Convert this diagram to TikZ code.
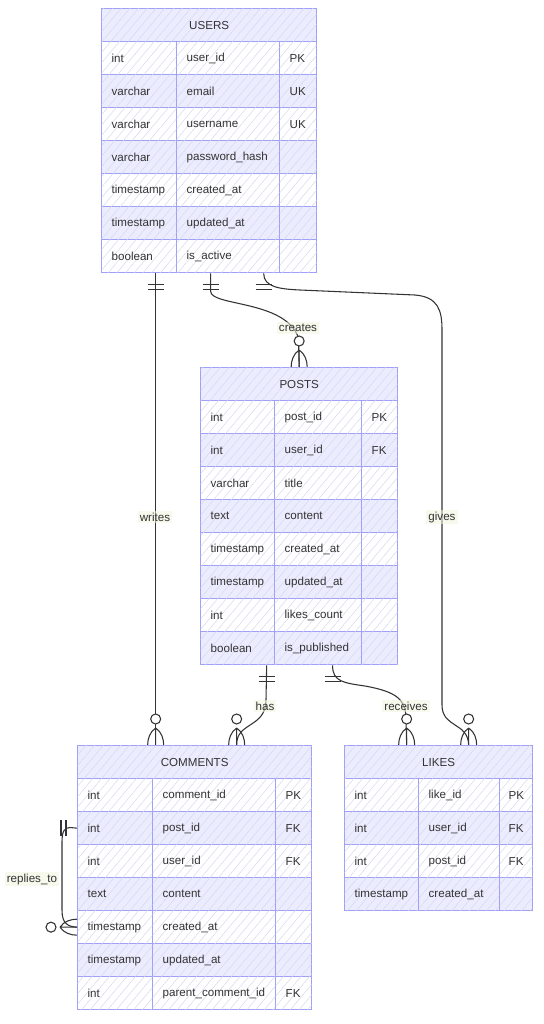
\documentclass[tikz,border=0pt]{standalone}
\usepackage{fontspec}
\setmainfont{Liberation Sans}
\usetikzlibrary{calc,patterns.meta}
\definecolor{erline}{RGB}{160,160,248}
\definecolor{erfill}{RGB}{236,236,255}
\definecolor{ertext}{RGB}{51,51,51}
\definecolor{hatch}{RGB}{214,214,240}
\definecolor{labelbg}{RGB}{240,245,222}
\newcommand{\erfont}{\fontsize{8.7}{10.5}\selectfont}
\begin{document}
\begin{tikzpicture}
[x=0.75pt, y=-0.75pt,
  hatched/.style={postaction={pattern={Lines[angle=50,distance=5pt,line width=0.35pt]},pattern color=hatch}},
  entityhead/.style={draw=erline, line width=1pt, fill=erfill, hatched, anchor=north west,
    minimum height=24.75pt, inner sep=0pt, text=ertext, font=\erfont},
  cell/.style={draw=erline, line width=1pt, hatched, anchor=north west, minimum height=24.75pt,
    inner xsep=7.5pt, inner ysep=0pt, align=left, text=ertext, font=\erfont},
  rowodd/.style={fill=white},
  roweven/.style={fill=erfill},
  relline/.style={draw=ertext, line width=0.8pt},
  rellabel/.style={fill=labelbg, fill opacity=0.55, text opacity=1, text=ertext, font=\erfont, inner sep=1.5pt},
  onlyone/.pic={\draw[relline] (-8,11) -- (8,11) (-8,16) -- (8,16);},
  zeromany/.pic={
    \draw[relline] (0,-17) .. controls (-6,-13) and (-8,-6) .. (-8,0)
      (0,-17) -- (0,0)
      (0,-17) .. controls (6,-13) and (8,-6) .. (8,0);
    \draw[relline, fill=white] (0,-26) circle[radius=5];}]
\path[use as bounding box, fill=white] (0,0) rectangle (543,1024);
%% USERS
\node (users-h) at (101,8) [entityhead, minimum width=161.25pt] {USERS};
\foreach \row/\rowfill/\ftype/\fname/\fkey in {1/rowodd/int/user\_id/PK,
  2/roweven/varchar/email/UK, 3/rowodd/varchar/username/UK,
  4/roweven/varchar/password\_hash/{}, 5/rowodd/timestamp/created\_at/{},
  6/roweven/timestamp/updated\_at/{}, 7/rowodd/boolean/is\_active/{}}
{
  \node (users-\row-type) at (101,{8+33*\row}) [cell, \rowfill, text width=41.25pt] {\ftype};
  \node (users-\row-name) at (176,{8+33*\row}) [cell, \rowfill, text width=62.25pt] {\fname};
  \node (users-\row-key) at (279,{8+33*\row}) [cell, \rowfill, text width=12.75pt] {\fkey};
}
%% POSTS
\node (posts-h) at (200,367) [entityhead, minimum width=147.75pt] {POSTS};
\foreach \row/\rowfill/\ftype/\fname/\fkey in {1/rowodd/int/post\_id/PK,
  2/roweven/int/user\_id/FK, 3/rowodd/varchar/title/{}, 4/roweven/text/content/{},
  5/rowodd/timestamp/created\_at/{}, 6/roweven/timestamp/updated\_at/{},
  7/rowodd/int/likes\_count/{}, 8/roweven/boolean/is\_published/{}}
{
  \node (posts-\row-type) at (200,{367+33*\row}) [cell, \rowfill, text width=40.5pt] {\ftype};
  \node (posts-\row-name) at (274,{367+33*\row}) [cell, \rowfill, text width=50.25pt] {\fname};
  \node (posts-\row-key) at (361,{367+33*\row}) [cell, \rowfill, text width=12pt] {\fkey};
}
%% COMMENTS
\node (comments-h) at (77,745) [entityhead, minimum width=175.5pt] {COMMENTS};
\foreach \row/\rowfill/\ftype/\fname/\fkey in {1/rowodd/int/comment\_id/PK,
  2/roweven/int/post\_id/FK, 3/rowodd/int/user\_id/FK, 4/roweven/text/content/{},
  5/rowodd/timestamp/created\_at/{}, 6/roweven/timestamp/updated\_at/{},
  7/rowodd/int/parent\_comment\_id/FK}
{
  \node (comments-\row-type) at (77,{745+33*\row}) [cell, \rowfill, text width=41.25pt] {\ftype};
  \node (comments-\row-name) at (152,{745+33*\row}) [cell, \rowfill, text width=77.25pt] {\fname};
  \node (comments-\row-key) at (275,{745+33*\row}) [cell, \rowfill, text width=12pt] {\fkey};
}
%% LIKES
\node (likes-h) at (344,745) [entityhead, minimum width=141pt] {LIKES};
\foreach \row/\rowfill/\ftype/\fname/\fkey in {1/rowodd/int/like\_id/PK,
  2/roweven/int/user\_id/FK, 3/rowodd/int/post\_id/FK, 4/roweven/timestamp/created\_at/{}}
{
  \node (likes-\row-type) at (344,{745+33*\row}) [cell, \rowfill, text width=40.5pt] {\ftype};
  \node (likes-\row-name) at (418,{745+33*\row}) [cell, \rowfill, text width=45.75pt] {\fname};
  \node (likes-\row-key) at (499,{745+33*\row}) [cell, \rowfill, text width=11.25pt, inner xsep=6.75pt] {\fkey};
}
%% relationships
\draw[relline] ($(users-7-type.south)+(16.5,0)$) -- ($(comments-h.north)+(-39,0)$);
\draw[relline] ($(users-7-name.south)+(-17.5,0)$) -- ++(0,18)
  .. controls +(0,15) and (286,300) .. (298.5,338) -- (posts-h.north);
\draw[relline] ($(users-7-name.south)+(35.5,0)$) .. controls +(0,14) and (280,289) .. (300,290)
  -- (415,295) .. controls (438,297) and (442,310) .. (442,330) -- (442,705)
  .. controls (442,728) and (468,722) .. ($(likes-h.north)+(30,0)$);
\draw[relline] ($(posts-8-type.south)+(29,0)$) -- (266,700)
  .. controls (266,728) and (236,722) .. ($(comments-h.north)+(42,0)$);
\draw[relline] ($(posts-8-name.south)+(14.5,0)$) .. controls (332,682) and (345,683) .. (365,686)
  .. controls (398,692) and (406,700) .. (406,720) -- ($(likes-h.north)+(-32,0)$);
\draw[relline] (comments-2-type.west) -- (70,827.5) .. controls (64,827.5) and (62,832) .. (62,842)
  -- (62,910) .. controls (62,924) and (68,926.5) .. (comments-5-type.west);
%% cardinality marks
\pic at ($(users-7-type.south)+(16.5,0)$) {onlyone};
\pic at ($(users-7-name.south)+(-17.5,0)$) {onlyone};
\pic at ($(users-7-name.south)+(35.5,0)$) {onlyone};
\pic at ($(posts-8-type.south)+(29,0)$) {onlyone};
\pic at ($(posts-8-name.south)+(14.5,0)$) {onlyone};
\pic[rotate=-90] at (comments-2-type.west) {onlyone};
\pic at ($(comments-h.north)+(-39,0)$) {zeromany};
\pic at ($(comments-h.north)+(42,0)$) {zeromany};
\pic at (posts-h.north) {zeromany};
\pic at ($(likes-h.north)+(30,0)$) {zeromany};
\pic at ($(likes-h.north)+(-32,0)$) {zeromany};
\pic[rotate=90] at (comments-5-type.west) {zeromany};
%% labels
\node (writes-label) at (155,517) [rellabel] {writes};
\node (creates-label) at (298,328) [rellabel] {creates};
\node (gives-label) at (442,517) [rellabel] {gives};
\node (has-label) at (265,706) [rellabel] {has};
\node (receives-label) at (406,706) [rellabel] {receives};
\node (replies-label) at (32,879) [rellabel] {replies\_to};
\end{tikzpicture}
\end{document}
